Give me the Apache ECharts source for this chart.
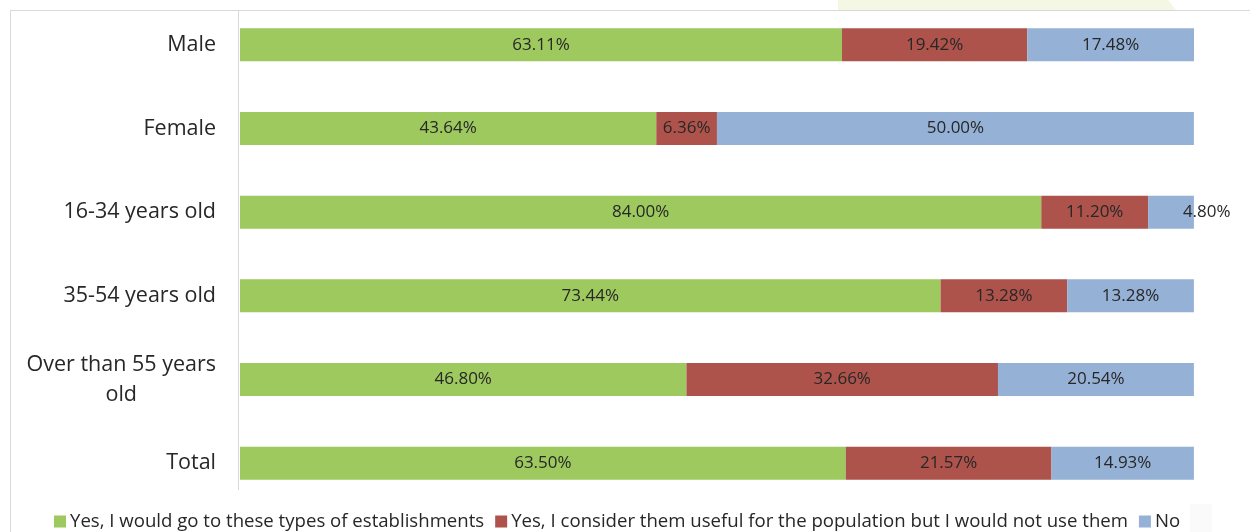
<!DOCTYPE html>
<html>
<head>
<meta charset="utf-8">
<script src="https://cdn.jsdelivr.net/npm/echarts@6/dist/echarts.min.js"></script>
<style>
  html, body { margin: 0; padding: 0; background: #ffffff; }
  #chart { width: 1250px; height: 532px; }
</style>
</head>
<body>
<div id="chart"></div>
<script>
// Respondent groups, top to bottom
const categories = ['Male', 'Female', '16-34 years old', '35-54 years old', 'Over than 55 years old', 'Total'];

// Share of answers (%) per group
const seriesNames = [
  'Yes, I would go to these types of establishments',
  'Yes, I consider them useful for the population but I would not use them',
  'No'
];
const wouldGo      = [63.11, 43.64, 84.00, 73.44, 46.80, 63.50];
const usefulNotUse = [19.42, 6.36, 11.20, 13.28, 32.66, 21.57];
const noAnswer     = [17.48, 50.00, 4.80, 13.28, 20.54, 14.93];

const colors = ['#9dc95f', '#ad534c', '#95b1d5'];
const FONT = '"Open Sans", "Noto Sans", sans-serif';
const TEXT = '#272727';

const chart = echarts.init(document.getElementById('chart'), null, { renderer: 'canvas' });

function makeSeries(name, values, color, idx) {
  return {
    name: name,
    type: 'bar',
    stack: 'share',
    barWidth: 33,
    itemStyle: { color: color },
    label: {
      show: true,
      position: 'inside',
      color: TEXT,
      fontFamily: FONT,
      fontSize: 17,
      formatter: p => p.value.toFixed(2) + '%'
    },
    emphasis: { disabled: true },
    data: values.map((v, i) => {
      // a narrow segment at the end of the bar gets its label pushed right
      if (idx === 2 && v < 6) {
        return { value: v, label: { position: 'right', distance: 0, offset: [-11, 0] } };
      }
      return v;
    })
  };
}

const option = {
  animation: false,
  backgroundColor: '#ffffff',
  textStyle: { fontFamily: FONT },
  grid: { left: 240, right: 56, top: 3, bottom: 27 },
  xAxis: {
    type: 'value',
    min: 0,
    max: 'dataMax',
    show: false
  },
  yAxis: {
    type: 'category',
    data: categories,
    inverse: true,
    axisLine: { show: false },
    axisTick: { show: false },
    axisLabel: {
      margin: 24,
      color: TEXT,
      fontFamily: FONT,
      fontSize: 21.5,
      lineHeight: 30,
      formatter: v => v === 'Over than 55 years old'
        ? '{a|Over than 55 years}\n{c|old}'
        : v,
      rich: {
        a: { fontFamily: FONT, fontSize: 21.5, color: TEXT, lineHeight: 30 },
        c: { fontFamily: FONT, fontSize: 21.5, color: TEXT, lineHeight: 30, align: 'center' }
      }
    }
  },
  legend: {
    top: 507,
    left: 49,
    itemWidth: 12,
    itemHeight: 12,
    itemGap: 11,
    icon: 'rect',
    textStyle: { color: TEXT, fontFamily: FONT, fontSize: 18.6, padding: [0, 0, 0, -1] },
    data: seriesNames
  },
  graphic: [
    // faint tinted shape above the frame
    { type: 'polygon', silent: true, z: 0,
      shape: { points: [[838, 0], [1168, 0], [1176, 10], [838, 10]] },
      style: { fill: '#f4f7e4' } },
    // faint patch right of the legend
    { type: 'rect', silent: true, z: 0,
      shape: { x: 1190, y: 504, width: 22, height: 28 },
      style: { fill: '#fafafa' } },
    // frame
    { type: 'line', silent: true, z: 1,
      shape: { x1: 10, y1: 10.5, x2: 1250, y2: 10.5 },
      style: { stroke: '#d9d9d9', lineWidth: 1 } },
    { type: 'line', silent: true, z: 1,
      shape: { x1: 10.5, y1: 10, x2: 10.5, y2: 532 },
      style: { stroke: '#d9d9d9', lineWidth: 1 } },
    // category axis line
    { type: 'line', silent: true, z: 1,
      shape: { x1: 238.5, y1: 11, x2: 238.5, y2: 490 },
      style: { stroke: '#d9d9d9', lineWidth: 1 } }
  ],
  series: [
    makeSeries(seriesNames[0], wouldGo, colors[0], 0),
    makeSeries(seriesNames[1], usefulNotUse, colors[1], 1),
    makeSeries(seriesNames[2], noAnswer, colors[2], 2)
  ]
};

chart.setOption(option);
</script>
</body>
</html>
